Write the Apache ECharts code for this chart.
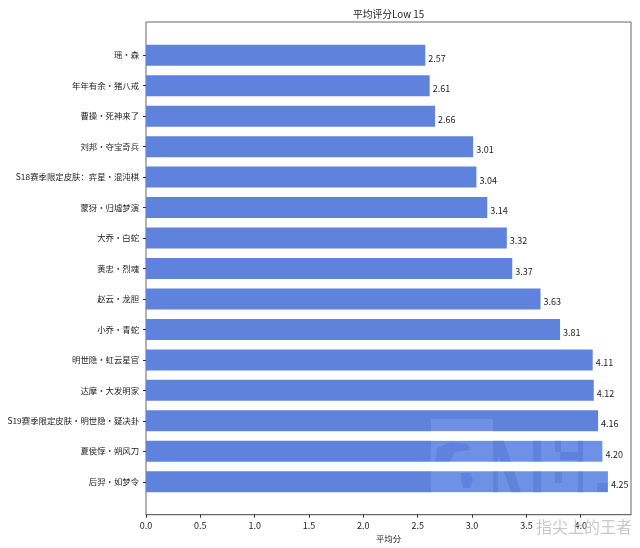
<!DOCTYPE html>
<html><head><meta charset="utf-8">
<style>html,body{margin:0;padding:0;background:#fff}#c{width:640px;height:548px}</style>
<script src="https://cdn.jsdelivr.net/npm/echarts@6/dist/echarts.min.js"></script>
</head><body><div id="c"></div>
<script>
const categories = ["瑶・森","年年有余・猪八戒","曹操・死神来了","刘邦・夺宝奇兵","S18赛季限定皮肤：弈星・混沌棋","蒙犽・归墟梦演","大乔・白蛇","黄忠・烈魂","赵云・龙胆","小乔・青蛇","明世隐・虹云星官","达摩・大发明家","S19赛季限定皮肤・明世隐・疑决卦","夏侯惇・朔风刀","后羿・如梦令"];
const scores = [2.57,2.61,2.66,3.01,3.04,3.14,3.32,3.37,3.63,3.81,4.11,4.12,4.16,4.20,4.25];
const title = "平均评分Low 15";
const xName = "平均分";
const xMax = 4.4625;
const font = '"Noto Sans CJK SC","DejaVu Sans",sans-serif';
const ink = '#222';
const box = (x0,y0,x1,y1)=>[[x0,y0],[x1,y0],[x1,y1],[x0,y1]];
const logoShapes = [
  [[431,419],[493,419],[493,495],[463,495],[463,488],[470,488],[473,480],[470,473],[460,473],[463,488],[463,495],[431,495],[431,462],[435,462],[450,462],[455,452],[470,450],[468,444],[450,442],[437,448],[435,462],[431,462]],
  [[503,438],[533,438],[533,495],[522,495]],
  [[498,455],[512,495],[498,495]],
  box(541,438,555,495), box(555,460,578,472), box(562,472,578,495), box(555,483,562,495), box(561,438,578,452), box(555,452,560,460),
  box(583,438,608,483), box(583,483,597,495), box(597,492,608,495)
];
const chart = echarts.init(document.getElementById('c'), null, {renderer:'canvas'});
chart.setOption({
  animation:false,
  backgroundColor:'#fff',
  textStyle:{fontFamily:font},
  title:{text:title,left:383.5,top:4,textAlign:'center',textStyle:{fontSize:9.8,fontWeight:'normal',color:ink,fontFamily:font}},
  grid:[
    {left:146,right:9,top:22,bottom:33,show:true,borderColor:'#666',borderWidth:1,backgroundColor:'transparent',containLabel:false},
    {left:146,right:9,top:40,height:457,containLabel:false}
  ],
  xAxis:[
    {gridIndex:0,type:'value',min:0,max:xMax,interval:0.5,name:xName,nameLocation:'middle',nameGap:11,
     nameTextStyle:{fontSize:8.4,color:ink,fontFamily:font},
     axisLine:{show:true,lineStyle:{color:'#666'}},axisTick:{show:true,length:3,lineStyle:{color:'#333'}},
     axisLabel:{fontSize:9,color:ink,margin:6,fontFamily:font,showMaxLabel:false,formatter:v=>v.toFixed(1)},splitLine:{show:false}},
    {gridIndex:1,type:'value',min:0,max:xMax,show:false,splitLine:{show:false}}
  ],
  yAxis:[
    {gridIndex:0,type:'value',min:0,max:1,show:false,splitLine:{show:false}},
    {gridIndex:1,type:'category',inverse:true,data:categories,
     axisLine:{show:false},axisTick:{show:true,alignWithLabel:true,length:3,lineStyle:{color:'#333'}},
     axisLabel:{fontSize:8.4,color:ink,margin:7,fontFamily:font,interval:0}}
  ],
  series:[{type:'bar',xAxisIndex:1,yAxisIndex:1,data:scores,barWidth:21,
    itemStyle:{color:'#5f82dd'},
    label:{show:true,position:'right',distance:3,offset:[0,3],fontSize:9,color:ink,fontFamily:font,formatter:p=>p.value.toFixed(2)}}],
  graphic:[
    ...logoShapes.map(p=>({type:'polygon',silent:true,z:90,shape:{points:p},style:{fill:'rgb(15,15,9)',blend:'lighter'}})),
    {type:'text',left:536,top:519,silent:true,z:100,style:{text:'指尖上的王者',fontSize:16,fontFamily:font,fill:'rgba(190,190,190,0.85)'}}
  ]
});
</script></body></html>
